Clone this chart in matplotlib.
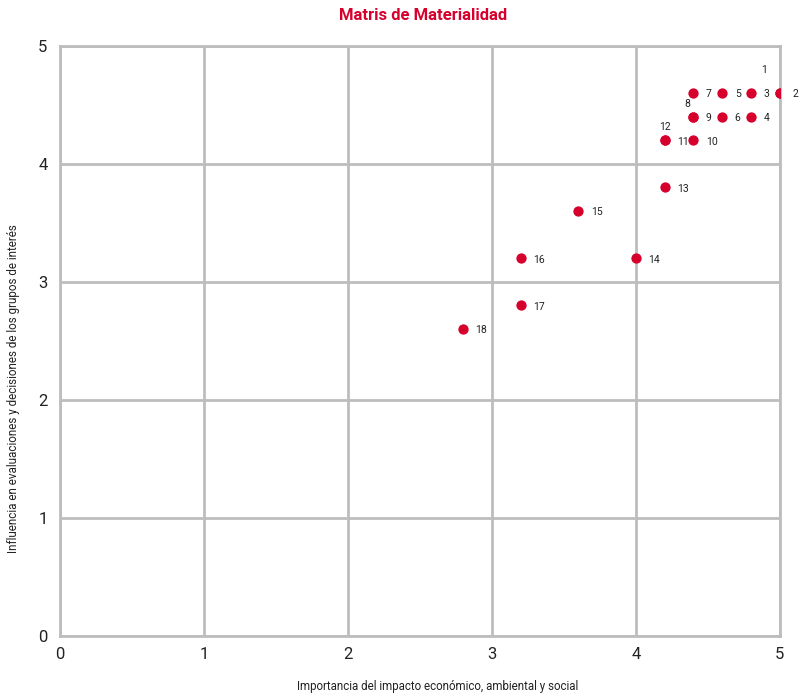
import matplotlib.pyplot as plt

plt.rcParams["font.family"] = ["Roboto", "DejaVu Sans"]

red = "#d6002d"
grid_gray = "#bdbdbd"

labels = ["1", "2", "3", "4", "5", "6", "7", "8", "9",
          "10", "11", "12", "13", "14", "15", "16", "17", "18"]
impact = [5.0, 5.0, 4.8, 4.8, 4.6, 4.6, 4.4, 4.4, 4.4,
          4.4, 4.2, 4.2, 4.2, 4.0, 3.6, 3.2, 3.2, 2.8]
influence = [4.6, 4.6, 4.6, 4.4, 4.6, 4.4, 4.6, 4.4, 4.4,
             4.2, 4.2, 4.2, 3.8, 3.2, 3.6, 3.2, 2.8, 2.6]

# labels that sit above the point instead of to the right (offsets in points)
above = {"1": (-11, 16.5), "8": (-4.5, 8.8), "12": (0, 9.4)}

fig = plt.figure(figsize=(7.99, 6.95), dpi=100)
ax = fig.add_axes([0.075, 0.085, 0.901, 0.849])

ax.scatter(impact, influence, s=55, color=red, zorder=3, linewidths=0)
for label, x, y in zip(labels, impact, influence):
    if label in above:
        dx, dy = above[label]
        ax.annotate(label, (x, y), xytext=(dx, dy), textcoords="offset points",
                    ha="center", va="center", fontsize=7.5, color="#222222")
    else:
        ax.annotate(label, (x, y), xytext=(9, -1), textcoords="offset points",
                    ha="left", va="center", fontsize=7.5, color="#222222")

ax.set_xlim(0, 5)
ax.set_ylim(0, 5)
ax.set_xticks(range(6))
ax.set_yticks(range(6))
ax.tick_params(length=0, labelsize=12, colors="#222222")
ax.tick_params(axis="x", pad=8)
ax.tick_params(axis="y", pad=9)
ax.grid(True, color=grid_gray, linewidth=2)
ax.set_axisbelow(True)
for spine in ax.spines.values():
    spine.set_color(grid_gray)
    spine.set_linewidth(2)

ax.set_xlabel("Importancia del impacto económico, ambiental y social",
              fontsize=8.3, labelpad=13, color="#222222")
ax.set_ylabel("Influencia en evaluaciones y decisiones de los grupos de interés",
              fontsize=8.4, labelpad=13, color="#222222")
ax.xaxis.label.set_x(0.524)
ax.yaxis.label.set_y(0.419)
fig.suptitle("Matris de Materialidad", y=0.988, x=0.53,
             fontsize=12, fontweight="bold", color=red)

fig.savefig("out.png", dpi=100)
